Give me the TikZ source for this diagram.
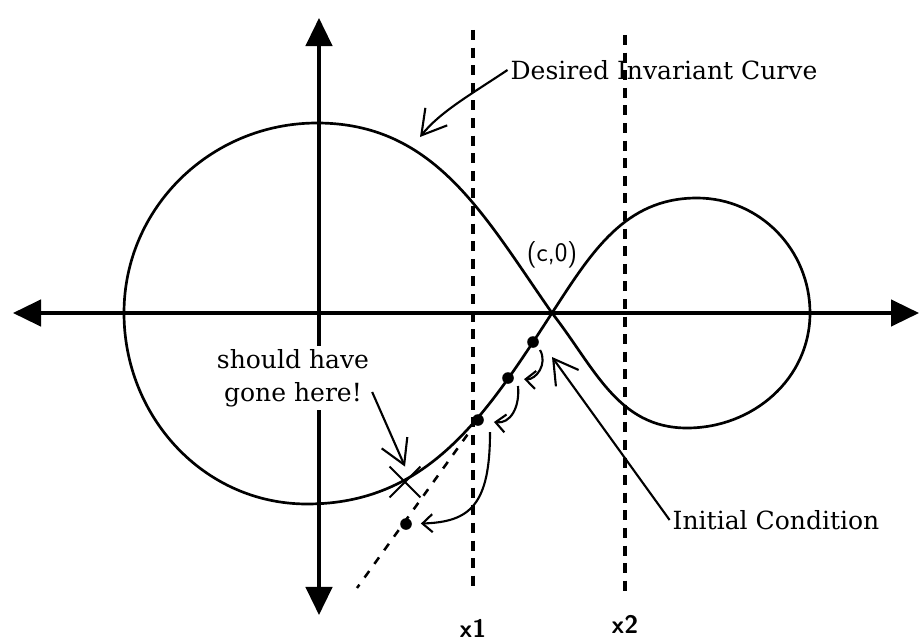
\documentclass[tikz,border=0pt]{standalone}
\usepackage{fontspec}
\usepackage{tikz}
\usetikzlibrary{arrows.meta,positioning,calc,shapes.misc}
\newfontfamily\notefont{DejaVu Serif}

\begin{document}
\begin{tikzpicture}[x=0.025cm,y=-0.025cm,
 lbl/.style={font=\notefont\fontsize{17.8}{23.5}\selectfont,align=center,inner sep=2pt},
 tag/.style={font=\fontsize{19}{22}\selectfont\sffamily,inner sep=1pt},
 axis/.style={line width=2.3pt,{Triangle[length=0.7cm,width=0.66cm]}-{Triangle[length=0.7cm,width=0.66cm]}},
 guide/.style={line width=2.6pt,dash pattern=on 0.25cm off 0.19cm},
 orbit/.style={line width=1.9pt},
 ptr/.style={line width=1.5pt,-{Straight Barb[length=0.6cm,width=0.7cm]}},
 hand/.style={line width=1.5pt,-{Straight Barb[length=0.25cm,width=0.45cm]}},
 dot/.style={circle,fill,inner sep=0pt,minimum size=0.29cm}]
\useasboundingbox (0,0) rectangle (920,644);
\coordinate (west) at (13,313);
\coordinate (east) at (919,313);
\coordinate (north) at (319,18);
\coordinate (south) at (319,615);
\draw[axis] (west) -- (east);
\draw[axis] (north) -- (south);
\coordinate (x1top) at (473,30);
\coordinate (x1bot) at (473,592);
\coordinate (x2top) at (625,35);
\coordinate (x2bot) at (625,592);
\draw[guide] (x1top) -- (x1bot);
\draw[guide] (x2top) -- (x2bot);
\node[tag,font=\fontsize{18}{20}\selectfont\sffamily\bfseries] (x1) at (473,628) {x1};
\node[tag,font=\fontsize{18}{20}\selectfont\sffamily\bfseries] (x2) at (625,624) {x2};
\coordinate (c0) at (552,313);
\draw[orbit] (c0) to[out=125,in=0] (317,123) to[out=180,in=90] (124,313)
 to[out=270,in=180] (307,504) to[out=0,in=237] (c0)
 to[out=57,in=180] (697,198) to[out=0,in=90] (810,313)
 to[out=270,in=0] (687,428) to[out=180,in=308] (c0);
\foreach \n/\x/\y in {p1/533/342,p2/508/378,p3/478/420,p4/406/524}
 \node[dot] (\n) at (\x,\y) {};
\coordinate (tanend) at (357,588);
\draw[line width=1.8pt,dash pattern=on 0.2cm off 0.22cm,shorten <=0.3cm] (p3) -- (tanend);
\node[draw,cross out,line width=1.4pt,minimum size=0.72cm,inner sep=0pt] (miss) at (405,482) {};
\node[tag] (clabel) at (552,255) {(c,0)};
\node[lbl] (desired) at (664,70) {Desired Invariant Curve};
\coordinate (desiredtip) at (420,137);
\draw[ptr] (desired.west) .. controls (470,95) and (440,112) .. (desiredtip);
\node[lbl,fill=white] (should) at (293,378) {should have\\gone here!};
\draw[ptr] ([yshift=-0.35cm]should.east) -- (miss.north);
\node[lbl] (initial) at (776,520) {Initial Condition};
\coordinate (ictip) at (552,357);
\draw[ptr] (initial.west) -- (ictip);
\coordinate (s1) at (540,350);
\coordinate (s2) at (518,386);
\coordinate (s3) at (490,432);
\draw[hand,shorten >=0.25cm] (s1) .. controls (548,364) and (536,380) .. (p2);
\draw[hand,shorten >=0.25cm] (s2) .. controls (520,408) and (510,424) .. (p3);
\draw[hand,shorten >=0.22cm] (s3) .. controls (490,505) and (470,522) .. (p4);
\end{tikzpicture}
\end{document}
